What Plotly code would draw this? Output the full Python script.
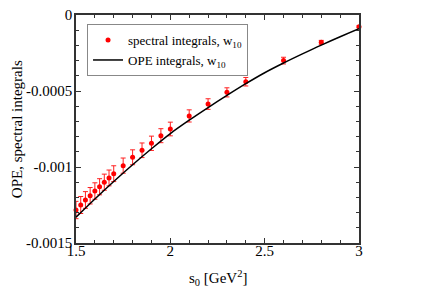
import plotly.graph_objects as go

# spectral integrals (points with error bars)
s_spec = [1.5, 1.525, 1.55, 1.575, 1.6, 1.625, 1.65, 1.675, 1.7, 1.75, 1.8, 1.85,
          1.9, 1.95, 2.0, 2.1, 2.2, 2.3, 2.4, 2.6, 2.8, 3.0]
v_spec = [-0.001283, -0.00125, -0.001217, -0.001189, -0.001158, -0.00113, -0.0011,
          -0.001072, -0.001044, -0.000991, -0.000936, -0.00089, -0.000844, -0.000794,
          -0.00075, -0.000664, -0.000586, -0.000509, -0.000439, -0.0003, -0.00018,
          -0.000077]
e_spec = [0.000057, 0.000056, 0.000055, 0.000054, 0.000054, 0.000053, 0.000053,
          0.000052, 0.000052, 0.00005, 0.000049, 0.000048, 0.000047, 0.000046,
          0.000045, 0.00004, 0.000035, 0.00003, 0.000028, 0.000022, 0.000013,
          0.000006]

# OPE integrals (line)
s_ope = [1.5, 1.6, 1.7, 1.8, 1.9, 2.0, 2.1, 2.2, 2.3, 2.4, 2.5, 2.6, 2.7, 2.8, 2.9, 3.0]
v_ope = [-0.00133, -0.00121, -0.001095, -0.000985, -0.00088, -0.00078, -0.000692,
         -0.000609, -0.000529, -0.000452, -0.00038, -0.000316, -0.000256, -0.000198,
         -0.000143, -0.00009]

x_tickvals = [1.5, 2.0, 2.5, 3.0]
x_ticktext = ["1.5", "2", "2.5", "3"]
y_tickvals = [0, -0.0005, -0.001, -0.0015]
y_ticktext = ["0", "-0.0005", "-0.001", "-0.0015"]

FONT = "Liberation Serif"

fig = go.Figure()
fig.add_trace(go.Scatter(
    x=s_spec, y=v_spec, mode="markers", name="spectral integrals, w<sub>10</sub>",
    marker=dict(color="#ff0000", size=5),
    error_y=dict(type="data", array=e_spec, color="#ff2020", thickness=1, width=2.5),
    cliponaxis=False,
))
fig.add_trace(go.Scatter(
    x=s_ope, y=v_ope, mode="lines", name="OPE integrals, w<sub>10</sub>",
    line=dict(color="black", width=1.5, shape="spline"),
))

axis_common = dict(
    showline=True, mirror="allticks", linecolor="#333", linewidth=1.5,
    ticks="inside", ticklen=5, tickcolor="#333", tickwidth=1,
    showgrid=False, zeroline=False, automargin=False,
    ticklabeloverflow="allow",
    tickfont=dict(family=FONT, size=15, color="black"),
)

fig.update_xaxes(
    range=[1.5, 3.0], tickvals=x_tickvals, ticktext=x_ticktext,
    minor=dict(ticks="inside", dtick=0.1, ticklen=3, tickcolor="#333", showgrid=False),
    ticklabelstandoff=-7,
    **axis_common,
)
fig.update_yaxes(
    range=[-0.0015, 0], tickvals=y_tickvals, ticktext=y_ticktext,
    minor=dict(ticks="inside", dtick=0.0001, ticklen=3, tickcolor="#333", showgrid=False),
    ticklabelstandoff=-1,
    **axis_common,
)

fig.add_annotation(
    text="s<sub>0</sub> [GeV<sup>2</sup>]", xref="paper", yref="paper",
    x=0.5, y=-0.1, xanchor="center", yanchor="top", showarrow=False,
    font=dict(family=FONT, size=15, color="black"),
)
fig.add_annotation(
    text="OPE, spectral integrals", xref="paper", yref="paper",
    x=-0.208, y=0.5, xanchor="center", yanchor="middle", showarrow=False,
    textangle=-90, font=dict(family=FONT, size=15, color="black"),
)

fig.update_layout(
    width=431, height=304,
    margin=dict(l=68, r=80, t=7, b=69),
    paper_bgcolor="white", plot_bgcolor="white",
    legend=dict(
        x=0.039, y=0.96, xanchor="left", yanchor="top",
        bordercolor="#888", borderwidth=1, bgcolor="white",
        font=dict(family=FONT, size=13, color="black"),
        itemwidth=30, tracegroupgap=0,
    ),
)

fig.write_html("out.html")
